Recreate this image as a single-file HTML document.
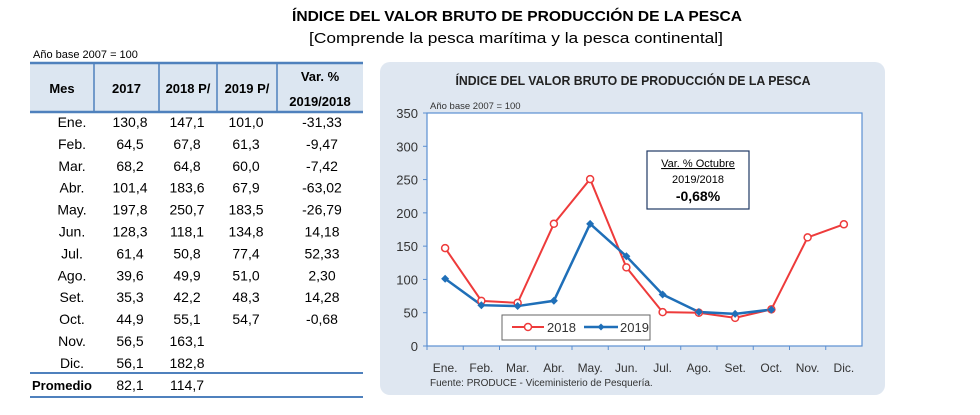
<!DOCTYPE html>
<html><head><meta charset="utf-8"><style>
body{margin:0;background:#fff;width:980px;height:415px;overflow:hidden}
svg{display:block;font-family:"Liberation Sans",sans-serif}
</style></head><body>
<svg id="s" width="980" height="415" viewBox="0 0 980 415">
<text x="517" y="21" text-anchor="middle" font-size="15" font-weight="bold" textLength="450" lengthAdjust="spacingAndGlyphs">ÍNDICE DEL VALOR BRUTO DE PRODUCCIÓN DE LA PESCA</text>
<text x="516" y="43" text-anchor="middle" font-size="15" textLength="414" lengthAdjust="spacingAndGlyphs">[Comprende la pesca marítima y la pesca continental]</text>
<text x="33" y="58" font-size="11">Año base 2007 = 100</text>
<g id="table"></g>
<rect x="380" y="62" width="505" height="333" rx="10" fill="#dfe7f1"/>
<text x="633" y="85" text-anchor="middle" font-size="13" font-weight="bold" fill="#222" textLength="355" lengthAdjust="spacingAndGlyphs">ÍNDICE DEL VALOR BRUTO DE PRODUCCIÓN DE LA PESCA</text>
<rect x="427" y="113" width="435" height="233" fill="#fff" stroke="#5b8fd1" stroke-width="1.2"/>
<text x="430" y="109" font-size="9.5" fill="#333">Año base  2007  =  100</text>
<g id="chart"></g>
<rect x="647" y="151" width="102" height="58" fill="#fff" stroke="#1f3864" stroke-width="1.2"/>
<text x="698" y="167" text-anchor="middle" font-size="11" text-decoration="underline">Var. % Octubre</text>
<text x="698" y="183" text-anchor="middle" font-size="11">2019/2018</text>
<text x="698" y="201" text-anchor="middle" font-size="14" font-weight="bold">-0,68%</text>
<rect x="502" y="315" width="148" height="25" fill="#fff" stroke="#666"/>
<g><line x1="512" y1="327" x2="544" y2="327" stroke="#ee3b3b" stroke-width="2"/><circle cx="528" cy="327" r="3.5" fill="#fff" stroke="#ee3b3b" stroke-width="1.5"/><text x="547" y="332" font-size="13" fill="#333">2018</text></g>
<g><line x1="584" y1="327" x2="618" y2="327" stroke="#1f6fb8" stroke-width="2.5"/><path d="M601 323.5L604.5 327L601 330.5L597.5 327Z" fill="#1f6fb8"/><text x="620" y="332" font-size="13" fill="#333">2019</text></g>
<text x="430" y="386" font-size="10" fill="#333">Fuente:  PRODUCE - Viceministerio de Pesquería.</text>
</svg>
<script>
const months=["Ene.","Feb.","Mar.","Abr.","May.","Jun.","Jul.","Ago.","Set.","Oct.","Nov.","Dic."];
const v2017=[130.8,64.5,68.2,101.4,197.8,128.3,61.4,39.6,35.3,44.9,56.5,56.1];
const v2018=[147.1,67.8,64.8,183.6,250.7,118.1,50.8,49.9,42.2,55.1,163.1,182.8];
const v2019=[101.0,61.3,60.0,67.9,183.5,134.8,77.4,51.0,48.3,54.7];
const varPct=["-31,33","-9,47","-7,42","-63,02","-26,79","14,18","52,33","2,30","14,28","-0,68"];
const avg2017=82.1, avg2018=114.7;
const yTicks=[0,50,100,150,200,250,300,350];
const NS="http://www.w3.org/2000/svg";
function mk(tag,attrs,parent,txt){const e=document.createElementNS(NS,tag);for(const k in attrs)e.setAttribute(k,attrs[k]);if(txt!==undefined)e.textContent=txt;parent.appendChild(e);return e;}
const fmt=v=>v.toFixed(1).replace('.',',');
const T=document.getElementById('table');
const cols=[30,94,159,217,277,363];
const h=mk('rect',{x:30,y:63,width:333,height:49,fill:'#dce6f1'},T);


[63,112].forEach(y=>mk('line',{x1:30,x2:363,y1:y,y2:y,stroke:'#4f81bd','stroke-width':2.5},T));
cols.slice(1,5).forEach(x=>mk('line',{x1:x,x2:x,y1:63,y2:112,stroke:'#4f81bd','stroke-width':1.5},T));
const hd=[["Mes"],["2017"],["2018 P/"],["2019 P/"],["Var. %","2019/2018"]];
hd.forEach((l,i)=>{const cx=(cols[i]+cols[i+1])/2;
 if(l.length===1){const t=mk('text',{x:cx,y:93,'text-anchor':'middle','font-size':13,'font-weight':'bold'},T,l[0]);}
 else{mk('text',{x:cx,y:81,'text-anchor':'middle','font-size':13,'font-weight':'bold'},T,l[0]);mk('text',{x:cx,y:106,'text-anchor':'middle','font-size':13,'font-weight':'bold'},T,l[1]);}
});
const ccx=[72,130,187,246,322];
months.forEach((m,i)=>{const y=127+i*21.9;
 const g=mk('g',{},T);
 
 
 mk('text',{x:ccx[0],y:y,'text-anchor':'middle','font-size':14},g,m);
 mk('text',{x:ccx[1],y:y,'text-anchor':'middle','font-size':14},g,fmt(v2017[i]));
 mk('text',{x:ccx[2],y:y,'text-anchor':'middle','font-size':14},g,fmt(v2018[i]));
 if(i<v2019.length){mk('text',{x:ccx[3],y:y,'text-anchor':'middle','font-size':14},g,fmt(v2019[i]));
 mk('text',{x:ccx[4],y:y,'text-anchor':'middle','font-size':14},g,varPct[i]);}
});
[373,397].forEach(y=>mk('line',{x1:30,x2:363,y1:y,y2:y,stroke:'#4f81bd','stroke-width':2},T));
const pr=mk('g',{},T);


mk('text',{x:62,y:390,'text-anchor':'middle','font-size':13,'font-weight':'bold'},pr,'Promedio');
mk('text',{x:ccx[1],y:390,'text-anchor':'middle','font-size':14},pr,fmt(avg2017));
mk('text',{x:ccx[2],y:390,'text-anchor':'middle','font-size':14},pr,fmt(avg2018));
const C=document.getElementById('chart');
const L=427,R=862,TOP=113,BOT=346,ymax=350;
const bw=(R-L)/months.length;
const xS=i=>L+bw*(i+0.5);
const yS=v=>BOT-(v/ymax)*(BOT-TOP);
yTicks.forEach(t=>{const e=mk('text',{x:418,y:yS(t)+5,'text-anchor':'end','font-size':13,fill:'#333'},C,String(t));
 
 
 mk('line',{x1:423,x2:427,y1:yS(t),y2:yS(t),stroke:'#5b8fd1'},C);});
months.forEach((m,i)=>{const e=mk('text',{x:xS(i),y:372,'text-anchor':'middle','font-size':12,fill:'#333'},C,m);
 
 
 mk('line',{x1:L+bw*i,x2:L+bw*i,y1:BOT,y2:BOT+4,stroke:'#5b8fd1'},C);});
const l18=mk('polyline',{points:v2018.map((v,i)=>xS(i)+','+yS(v)).join(' '),fill:'none',stroke:'#ee3b3b','stroke-width':2},C);


const l19=mk('polyline',{points:v2019.map((v,i)=>xS(i)+','+yS(v)).join(' '),fill:'none',stroke:'#1f6fb8','stroke-width':2.5},C);


v2018.forEach((v,i)=>{const c=mk('circle',{cx:xS(i),cy:yS(v),r:3.5,fill:'#fff',stroke:'#ee3b3b','stroke-width':1.5},C);
 
 });
v2019.forEach((v,i)=>{const x=xS(i),y=yS(v);const p=mk('path',{d:`M${x} ${y-4}L${x+4} ${y}L${x} ${y+4}L${x-4} ${y}Z`,fill:'#1f6fb8'},C);
 
 });
</script>
</body></html>
